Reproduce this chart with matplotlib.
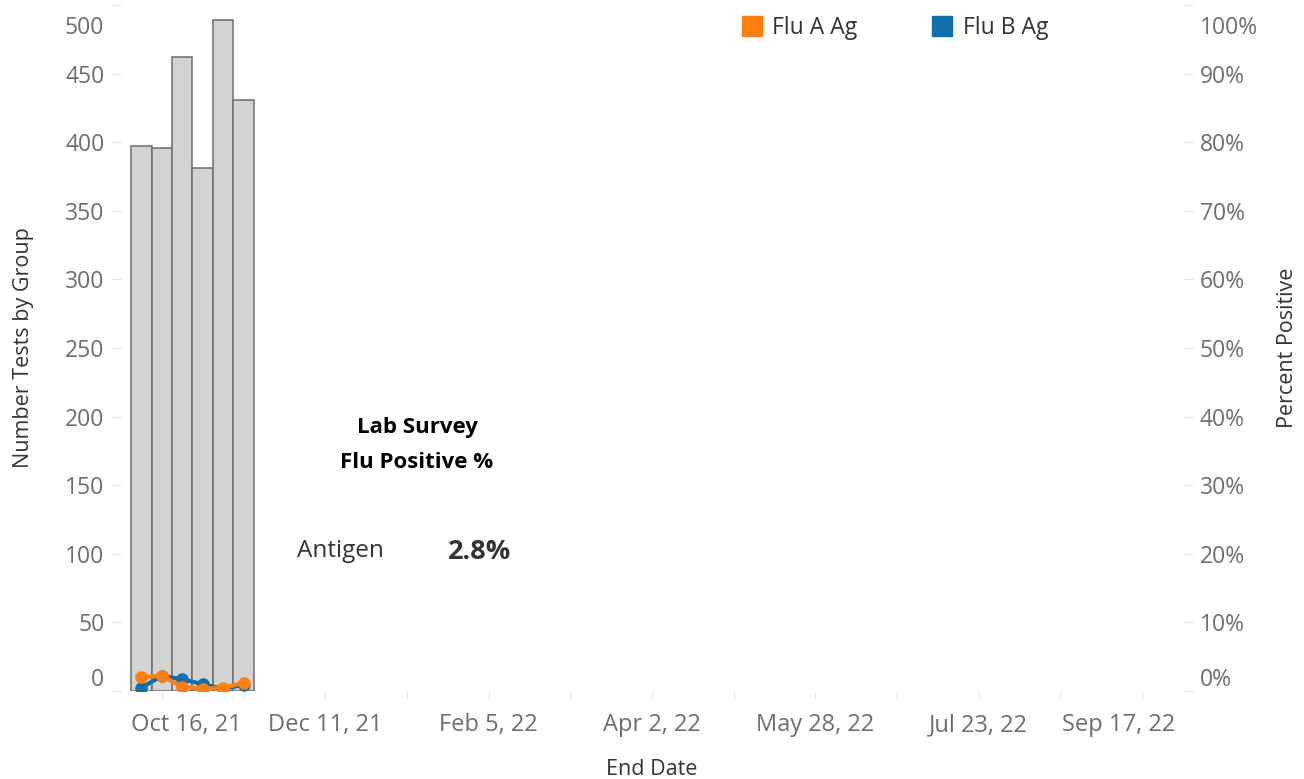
import pandas as pd
import matplotlib
matplotlib.use("Agg")
import matplotlib.pyplot as plt
import matplotlib.transforms as mtransforms
from matplotlib.lines import Line2D
from matplotlib.ticker import PercentFormatter

# data
week_end = pd.to_datetime(["2021-10-09", "2021-10-16", "2021-10-23",
                           "2021-10-30", "2021-11-06", "2021-11-13"])
tests = [397, 396, 462, 381, 489, 431]
flu_a_pct = [2.1, 2.2, 0.6, 0.35, 0.45, 1.2]
flu_b_pct = [0.5, 2.2, 1.7, 1.0, 0.3, 0.9]
series_names = ["Flu A Ag", "Flu B Ag"]
series_colors = ["#FF7F0E", "#1170AA"]
antigen_pct = "2.8%"

x_start, x_end = pd.Timestamp("2021-10-02"), pd.Timestamp("2022-10-01")
first_label = pd.Timestamp("2021-10-16")

plt.rcParams["font.family"] = ["Open Sans", "DejaVu Sans"]
tick_col = "#6E6E6E"
title_col = "#333333"

W, H = 1304, 779
fig = plt.figure(figsize=(W / 100, H / 100), dpi=100)
ax = fig.add_axes([121 / W, 1 - 691 / H, (1183 - 121) / W, 686 / H])
ax2 = ax.twinx()

# bars
ax.bar(week_end, tests, width=7, color="#D3D3D3", edgecolor="#6E6E6E", linewidth=1.1, zorder=2)
ax.axhline(0, color="#C8C8C8", lw=0.8, ls=(0, (3, 2)), zorder=1)

# lines
ax2.plot(week_end, [v / 100 for v in flu_b_pct], color=series_colors[1], lw=3,
         marker="o", ms=8, solid_capstyle="round", zorder=3)
ax2.plot(week_end, [v / 100 for v in flu_a_pct], color=series_colors[0], lw=3,
         marker="o", ms=8, solid_capstyle="round", zorder=4)

ax.set_ylim(0, 500)
ax2.set_ylim(0, 1)

for a in (ax, ax2):
    for s in a.spines.values():
        s.set_visible(False)

# y ticks
ax.set_yticks(range(0, 501, 50))
ax2.set_yticks([i / 10 for i in range(11)])
ax2.yaxis.set_major_formatter(PercentFormatter(1.0, decimals=0))
for a in (ax, ax2):
    a.tick_params(axis="y", length=7, width=0.8, color="#E6E6E6", labelsize=16.5,
                  labelcolor=tick_col, pad=5)

# x ticks: labels every 8 weeks, minor every 4 weeks
major = pd.date_range(first_label, x_end, freq="56D")
minor = pd.date_range(first_label, x_end, freq="28D")
ax.set_xticks(major)
ax.set_xticks(minor, minor=True)
ax.set_xticklabels([f"{d:%b} {d.day}, {d:%y}" for d in major])
ax.tick_params(axis="x", which="both", length=6, width=0.8, color="#E6E6E6",
               labelsize=17, labelcolor=tick_col, pad=10)
ax.set_xlim(x_start, x_end)

# Tableau keeps edge labels inside the axis
def shift(lbl, dx, dy):
    lbl.set_transform(lbl.get_transform() +
                      mtransforms.ScaledTranslation(dx / 100, dy / 100, fig.dpi_scale_trans))

xl = ax.get_xticklabels()
shift(xl[0], 25, 0)
shift(xl[-1], -24, 0)
for a in (ax, ax2):
    yl = a.get_yticklabels()
    shift(yl[0], 0, 14)
    shift(yl[-1], 0, -20)

ax.set_ylabel("Number Tests by Group", fontsize=15.5, color=title_col, labelpad=22)
ax2.set_ylabel("Percent Positive", fontsize=15.5, color=title_col, labelpad=14)
ax.set_xlabel("End Date", fontsize=15.5, color=title_col, labelpad=16)

# summary text
fig.text(417 / W, 1 - 428 / H, "Lab Survey", ha="center", va="center",
         fontsize=16, fontweight="bold", color="black")
fig.text(417 / W, 1 - 462 / H, "Flu Positive %", ha="center", va="center",
         fontsize=16, fontweight="bold", color="black")
fig.text(340 / W, 1 - 551 / H, "Antigen", ha="center", va="center",
         fontsize=17.5, color=title_col)
fig.text(480 / W, 1 - 552 / H, antigen_pct, ha="center", va="center",
         fontsize=19.5, fontweight="bold", color=title_col)

# legend
handles = [Line2D([], [], ls="", marker="s", ms=15, color=c) for c in series_colors]
fig.legend(handles, series_names, loc="upper left", bbox_to_anchor=(731 / W, 1 - 7 / H),
           ncol=2, frameon=False, fontsize=16.5, handlelength=1.0, handletextpad=0.4,
           columnspacing=3.2, labelcolor=title_col, borderaxespad=0)

fig.savefig("out.png", dpi=100)
